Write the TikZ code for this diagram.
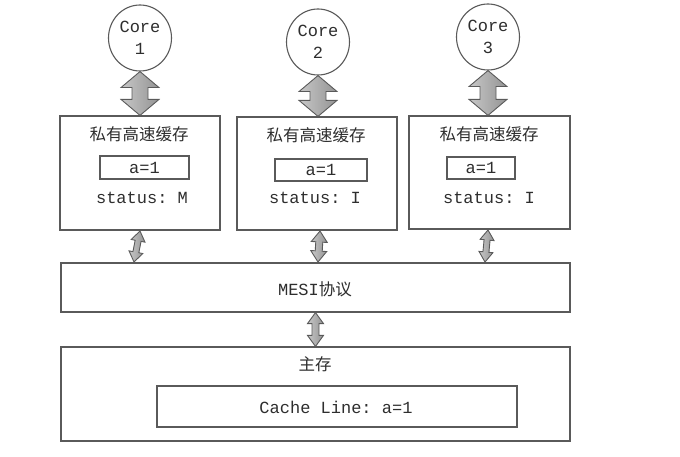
\documentclass[tikz,border=0pt]{standalone}
\usepackage{fontspec}
\setmonofont{Liberation Mono}
\newfontfamily\cjk{Noto Sans CJK SC}
\usetikzlibrary{calc,shapes.geometric}
\definecolor{linec}{HTML}{5A5A5A}
\definecolor{textc}{HTML}{2E2E2E}
\tikzset{
  boxst/.style={draw=linec,line width=1.2pt,inner sep=0pt,rectangle},
  corest/.style={draw=linec,line width=1.1pt,ellipse,minimum width=63pt,minimum height=66pt,inner sep=0pt,
    font=\ttfamily\fontsize{17}{22}\selectfont,text=textc,align=center},
  mono/.style={font=\ttfamily\fontsize{17}{18}\selectfont,text=textc,inner sep=0pt},
  cjkt/.style={font=\cjk\fontsize{16.5}{18}\selectfont,text=textc,inner sep=0pt},
  blockarr/.style={draw=linec,line width=0.9pt,left color=black!22,right color=black!42,line join=miter},
}
% #1 start, #2 end, #3 half shaft, #4 half head, #5 head length
\newcommand\blockarrow[5]{%
  \path[blockarr] (#1)
   -- ($(#1)!#5!(#2)!#4!90:(#2)$)
   -- ($(#1)!#5!(#2)!#3!90:(#2)$)
   -- ($(#2)!#5!(#1)!#3!-90:(#1)$)
   -- ($(#2)!#5!(#1)!#4!-90:(#1)$)
   -- (#2)
   -- ($(#2)!#5!(#1)!#4!90:(#1)$)
   -- ($(#2)!#5!(#1)!#3!90:(#1)$)
   -- ($(#1)!#5!(#2)!#3!-90:(#2)$)
   -- ($(#1)!#5!(#2)!#4!-90:(#2)$)
   -- cycle;}
\begin{document}
\begin{tikzpicture}[x=1pt,y=-1pt]
\useasboundingbox[fill=white] (0,0) rectangle (680,457);
% cores
\node[corest] (c1) at (140,38) {Core\\1};
\node[corest] (c2) at (318,42) {Core\\2};
\node[corest] (c3) at (488,37) {Core\\3};
% cache boxes
\node[boxst,minimum width=160pt,minimum height=114pt] (b1) at (140,173) {};
\node[boxst,minimum width=160pt,minimum height=113pt] (b2) at (317,173.5) {};
\node[boxst,minimum width=161pt,minimum height=113pt] (b3) at (489.5,172.5) {};
\node[cjkt] (t1) at (139,134) {私有高速缓存};
\node[cjkt] (t2) at (316,135) {私有高速缓存};
\node[cjkt] (t3) at (489,134) {私有高速缓存};
\node[boxst,minimum width=89pt,minimum height=23pt,mono] (v1) at (144.5,167.5) {a=1};
\node[boxst,minimum width=92pt,minimum height=22pt,mono] (v2) at (321,170) {a=1};
\node[boxst,minimum width=68pt,minimum height=22pt,mono] (v3) at (481,168) {a=1};
\node[mono] (s1) at (142,198) {status: M};
\node[mono] (s2) at (315,198) {status: I};
\node[mono] (s3) at (489,198) {status: I};
% MESI
\node[boxst,minimum width=509pt,minimum height=49pt] (mesi) at (315.5,287.5) {};
\node[inner sep=0pt,text=textc] (mesit) at (315,289) {{\ttfamily\fontsize{17}{18}\selectfont MESI}{\cjk\fontsize{16.5}{18}\selectfont 协议}};
% main memory
\node[boxst,minimum width=509pt,minimum height=94pt] (mem) at (315.5,394) {};
\node[cjkt] (memt) at (315,364) {主存};
\node[boxst,minimum width=360pt,minimum height=41pt] (cl) at (337,406.5) {};
\node[mono] (clt) at (336,407) {Cache Line: a=1};
% big arrows
\blockarrow{c1.south}{c1.south |- b1.north}{8pt}{19pt}{16pt}
\blockarrow{c2.south}{c2.south |- b2.north}{8pt}{19pt}{16pt}
\blockarrow{c3.south}{c3.south |- b3.north}{8pt}{19pt}{16pt}
% small arrows
\coordinate (a1t) at (140,231);
\coordinate (a1b) at (134,262);
\coordinate (a2t) at (320,231);
\coordinate (a2b) at (318,262);
\coordinate (a3t) at (488,230);
\coordinate (a3b) at (485,262);
\blockarrow{a1t}{a1b}{3pt}{7pt}{10pt}
\blockarrow{a2t}{a2b}{3.5pt}{8pt}{11pt}
\blockarrow{a3t}{a3b}{3pt}{7pt}{10pt}
\blockarrow{mesi.south -| mem.north}{mem.north}{3.5pt}{8pt}{11pt}
\end{tikzpicture}
\end{document}
